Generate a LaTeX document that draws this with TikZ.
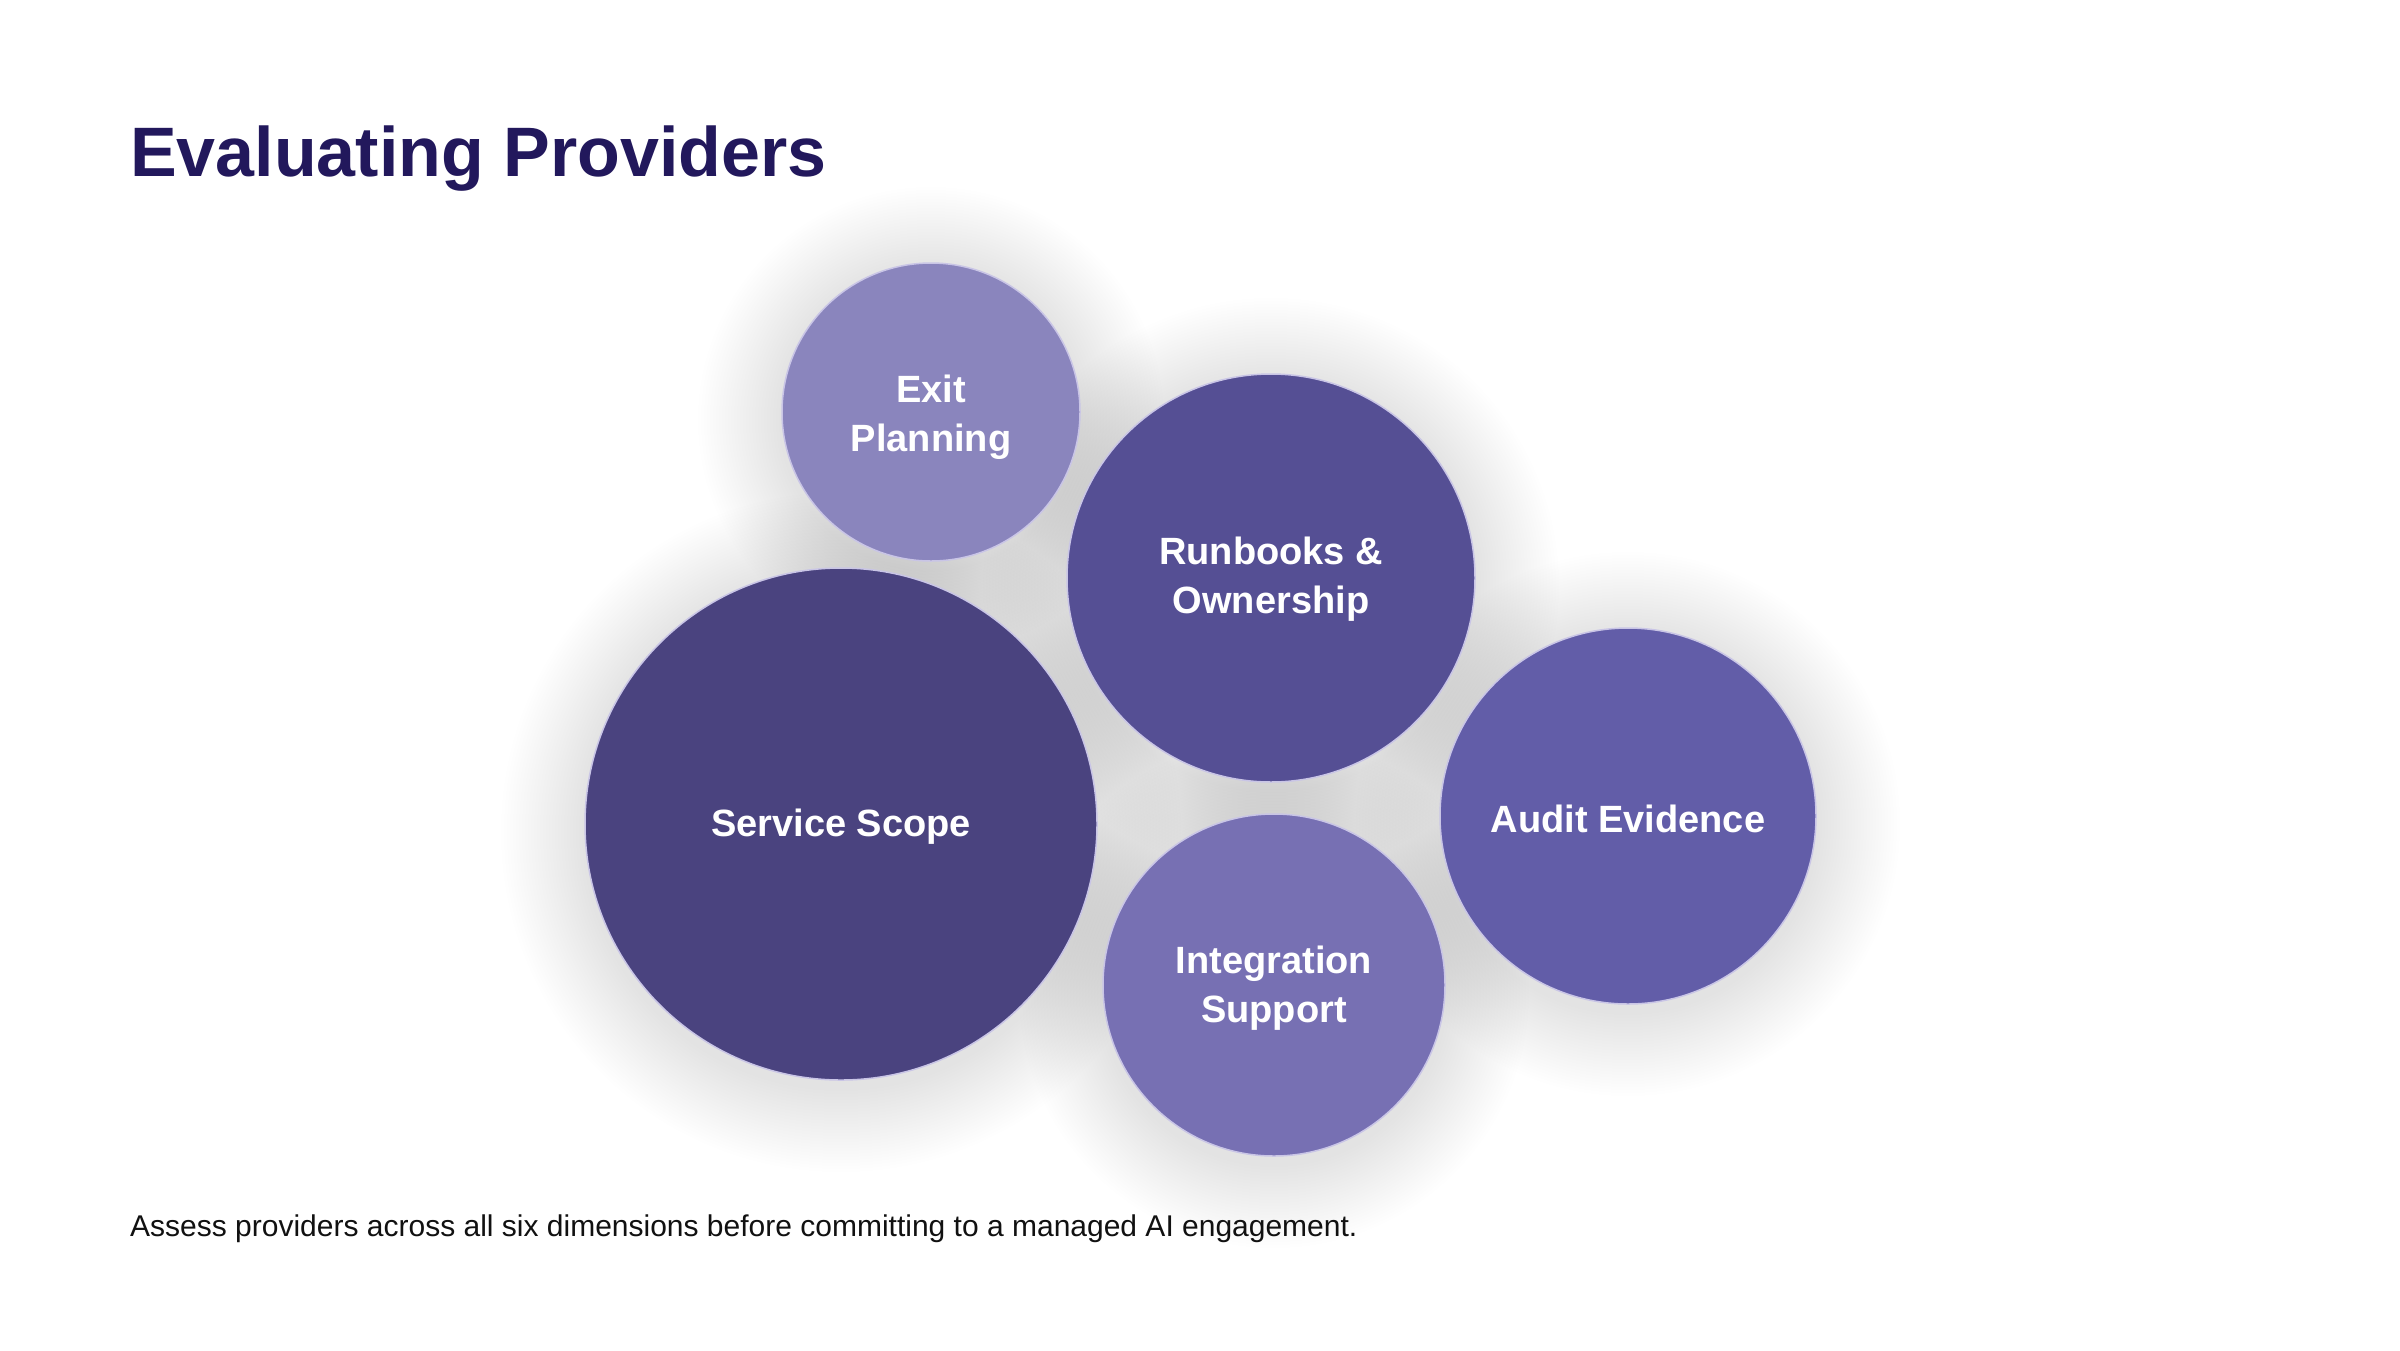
\documentclass[tikz,border=0pt]{standalone}
\usepackage{fontspec}
\setmainfont{Liberation Sans}
\definecolor{titlec}{HTML}{22185C}
\definecolor{cExit}{HTML}{8A85BD}
\definecolor{cRun}{HTML}{554F94}
\definecolor{cServ}{HTML}{4A437F}
\definecolor{cInt}{HTML}{7770B3}
\definecolor{cAud}{HTML}{625DA8}
\definecolor{rimc}{HTML}{C9C5E6}
\definecolor{footc}{HTML}{111111}
\begin{document}
\begin{tikzpicture}[x=1pt,y=-1pt,
  bubble/.style={circle, inner sep=0pt, draw=rimc, line width=1.5pt},
  bubbletext/.style={inner sep=0pt, text=white, align=center,
    font=\fontsize{38}{49}\selectfont\bfseries},
  halo/.style={fill=black, opacity=0.0042},
  plaintext/.style={anchor=base west, inner sep=0pt}
]
\useasboundingbox (0,0) rectangle (2400,1350);
\fill[white] (0,0) rectangle (2400,1350);
% soft shadows
\foreach \x/\y/\r in {931/412/149, 1271/578/204, 841/824/256, 1274/985/171, 1628/816/188}{
  \foreach \k in {1,...,28}{
    \fill[halo] (\x,\y+8) circle[radius={\r+3*\k}];
  }
}
% bubbles
\node[bubble, fill=cExit, minimum size=298pt] (exit) at (931,412) {};
\node[bubble, fill=cRun, minimum size=408pt] (run) at (1271,578) {};
\node[bubble, fill=cServ, minimum size=512pt] (serv) at (841,824) {};
\node[bubble, fill=cInt, minimum size=342pt] (int) at (1274,985) {};
\node[bubble, fill=cAud, minimum size=376pt] (aud) at (1628,816) {};
% bubble labels
\node[bubbletext] (exitlbl) at ([yshift=-5pt]exit.center) {Exit\\Planning};
\node[bubbletext] (runlbl) at ([yshift=-1pt]run.center) {Runbooks \&\\Ownership};
\node[bubbletext] (servlbl) at ([yshift=-3pt]serv.center) {Service Scope};
\node[bubbletext] (intlbl) at ([yshift=-3pt]int.center) {Integration\\Support};
\node[bubbletext] (audlbl) at ([yshift=-3pt]aud.center) {Audit Evidence};
% texts
\node[plaintext, text=titlec, font=\fontsize{70}{84}\selectfont\bfseries] (title) at (130,176) {Evaluating Providers};
\node[plaintext, text=footc, font=\fontsize{30}{36}\selectfont] (foot) at (130,1236) {Assess providers across all six dimensions before committing to a managed AI engagement.};
\end{tikzpicture}
\end{document}
